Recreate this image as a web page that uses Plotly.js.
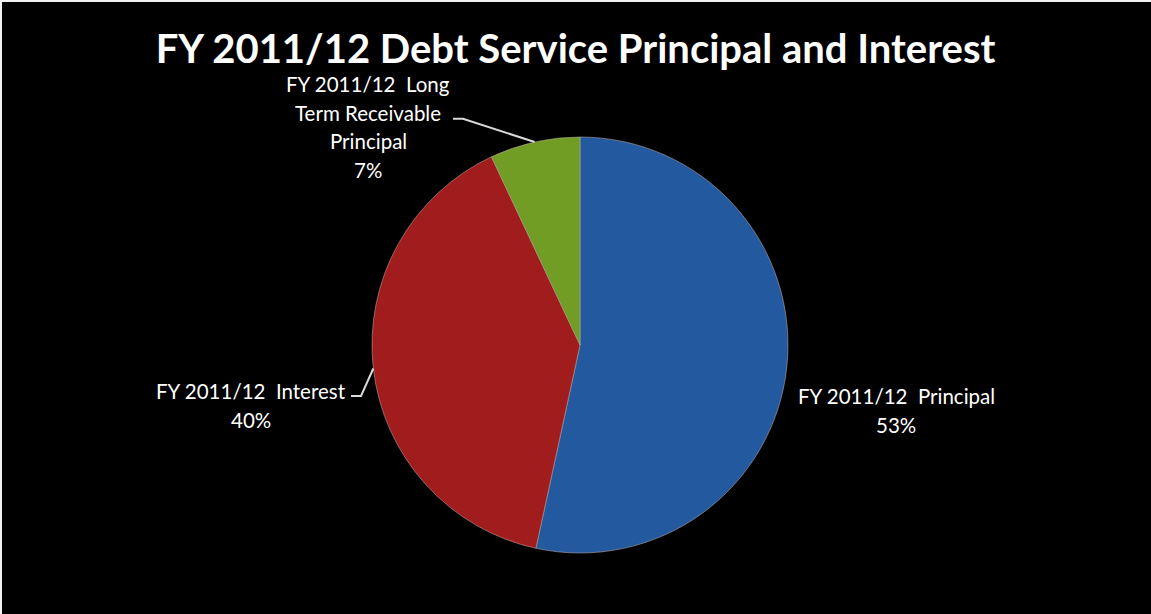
<!DOCTYPE html>
<html>
<head>
<meta charset="utf-8">
<script src="https://cdn.plot.ly/plotly-3.0.1.min.js"></script>
<style>
  html, body { margin: 0; padding: 0; background: #000; overflow: hidden; }
  #chart { position: absolute; left: 0; top: 0; width: 1151px; height: 614px; }
  #edgeTop { position: absolute; left: 0; top: 0; width: 1151px; height: 2px; background: #f2f2f2; pointer-events: none; }
  #edgeLeft { position: absolute; left: 0; top: 0; width: 2px; height: 614px; background: #f2f2f2; pointer-events: none; }
</style>
</head>
<body>
<div id="chart"></div>
<div id="edgeTop"></div>
<div id="edgeLeft"></div>
<script>
// ---- data ----
const chartTitle = 'FY 2011/12 Debt Service Principal and Interest';
const categories = ['FY 2011/12  Principal', 'FY 2011/12  Interest', 'FY 2011/12  Long Term Receivable Principal'];
const values = [53.4, 39.6, 7.0];
const labelLines = [
  ['FY 2011/12  Principal'],
  ['FY 2011/12  Interest'],
  ['FY 2011/12  Long', 'Term Receivable', 'Principal']
];
const sliceColors = ['#235a9f', '#a11d1d', '#719d25'];
const hasLeader = [false, true, true];

// ---- layout geometry (pixels) ----
const W = 1151, H = 614;
const M = { l: 9, r: 0, t: 137, b: 61 };
const plotW = W - M.l - M.r, plotH = H - M.t - M.b;
const R = Math.min(plotW, plotH) / 2;
const cx = M.l + plotW / 2, cy = M.t + plotH / 2;
const labelPos = [ [896, 396], [251, 391], [368, 84] ]; // center of first text line
const leaderAttach = [null, { line: 0, x: 351, dy: 5 }, { line: 1, x: 453, dy: 6 }];
const lineGap = 28.7;
const fontFam = 'Lato, Calibri, "Open Sans", sans-serif';

const px2x = (px) => (px - M.l) / plotW;
const py2y = (py) => (H - M.b - py) / plotH;

const total = values.reduce((a, b) => a + b, 0);
const pct = values.map(v => Math.round(v / total * 100) + '%');

const annotations = [];
const shapes = [];
let cum = 0;
values.forEach((v, i) => {
  const mid = (cum + v / 2) / total * 2 * Math.PI; // clockwise from 12 o'clock
  cum += v;
  const lines = labelLines[i].concat([pct[i]]);
  const [lx, ly] = labelPos[i];
  lines.forEach((t, j) => {
    annotations.push({
      text: t, showarrow: false, xref: 'paper', yref: 'paper',
      x: px2x(lx), y: py2y(ly + j * lineGap), xanchor: 'center', yanchor: 'middle',
      font: { family: fontFam, size: 20.5, color: '#ffffff' }
    });
  });
  if (hasLeader[i]) {
    const a = leaderAttach[i];
    const ex = cx + R * Math.sin(mid), ey = cy - R * Math.cos(mid);
    const sx = a.x, sy = ly + a.line * lineGap + a.dy;
    const kx = sx + 10;
    shapes.push({
      type: 'path', xref: 'paper', yref: 'paper',
      path: `M ${px2x(sx)} ${py2y(sy)} L ${px2x(kx)} ${py2y(sy)} L ${px2x(ex)} ${py2y(ey)}`,
      line: { color: '#d9d9d9', width: 2 }
    });
  }
});

const trace = {
  type: 'pie',
  labels: categories,
  values: values,
  sort: false,
  direction: 'clockwise',
  rotation: 0,
  textinfo: 'none',
  hoverinfo: 'skip',
  marker: { colors: sliceColors, line: { color: 'rgba(190,170,170,0.55)', width: 1 } },
  showlegend: false
};

const layout = {
  width: W, height: H,
  paper_bgcolor: '#000000', plot_bgcolor: '#000000',
  margin: M,
  title: {
    text: '<b>' + chartTitle + '</b>',
    x: 0.5, xref: 'container', xanchor: 'center',
    y: 1 - 49 / H, yref: 'container', yanchor: 'middle',
    font: { family: fontFam, size: 40, color: '#ffffff' }
  },
  annotations: annotations,
  shapes: shapes,
  showlegend: false
};

Plotly.newPlot('chart', [trace], layout, { staticPlot: true, displayModeBar: false });
</script>
</body>
</html>
